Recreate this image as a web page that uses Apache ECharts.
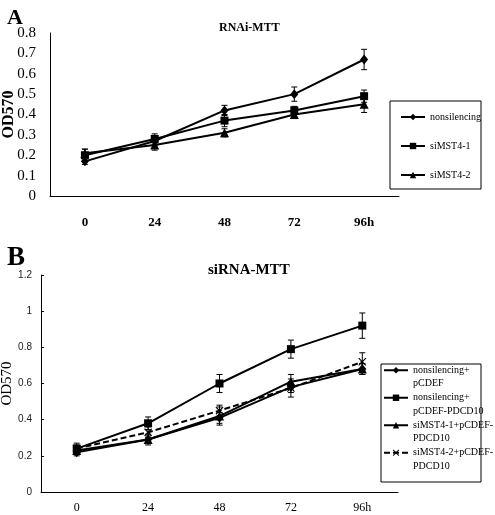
<!DOCTYPE html>
<html><head><meta charset="utf-8">
<script src="https://cdn.jsdelivr.net/npm/echarts@6/dist/echarts.min.js"></script>
<style>html,body{margin:0;padding:0;background:#fff}#c{width:495px;height:515px}</style>
</head><body><div id="c"></div>
<script>
// ---- Panel A data ----
const hours = ['0', '24', '48', '72', '96h'];
const aNames = ['nonsilencing', 'siMST4-1', 'siMST4-2'];
const aNonsilencing    = [0.17, 0.27, 0.42, 0.50, 0.67];
const aNonsilencingErr = [0.015, 0.02, 0.025, 0.035, 0.05];
const aSiMST41         = [0.20, 0.28, 0.37, 0.42, 0.49];
const aSiMST41Err      = [0.03, 0.025, 0.03, 0.02, 0.03];
const aSiMST42         = [0.21, 0.25, 0.31, 0.40, 0.45];
const aSiMST42Err      = [0.02, 0.025, 0.02, 0.02, 0.04];
const aYTicks = ['0', '0.1', '0.2', '0.3', '0.4', '0.5', '0.6', '0.7', '0.8'];

// ---- Panel B data ----
const bNames = ['nonsilencing+\npCDEF', 'nonsilencing+\npCDEF-PDCD10', 'siMST4-1+pCDEF-\nPDCD10', 'siMST4-2+pCDEF-\nPDCD10'];
const bNonPCDEF       = [0.22, 0.29, 0.41, 0.58, 0.68];
const bNonPCDEFErr    = [0.02, 0.02, 0.03, 0.03, 0.03];
const bNonPDCD10      = [0.24, 0.38, 0.60, 0.79, 0.92];
const bNonPDCD10Err   = [0.02, 0.035, 0.05, 0.05, 0.07];
const bSi1PDCD10      = [0.23, 0.29, 0.42, 0.61, 0.68];
const bSi1PDCD10Err   = [0.02, 0.03, 0.05, 0.04, 0.03];
const bSi2PDCD10      = [0.24, 0.33, 0.45, 0.575, 0.72];
const bSi2PDCD10Err   = [0.03, 0.03, 0.03, 0.05, 0.05];
const bYTicks = ['0', '0.2', '0.4', '0.6', '0.8', '1', '1.2'];

const SERIF = 'Liberation Serif';
const SANS = 'Liberation Sans';

function errData(vals, errs) {
  return vals.map((v, i) => [i, v - errs[i], v + errs[i]]);
}
function errRender(params, api) {
  const x = api.value(0), lo = api.value(1), hi = api.value(2);
  const p1 = api.coord([x, hi]), p2 = api.coord([x, lo]);
  const w = 3;
  const style = { stroke: '#000', lineWidth: 1 };
  return { type: 'group', children: [
    { type: 'line', shape: { x1: p1[0], y1: p1[1], x2: p2[0], y2: p2[1] }, style },
    { type: 'line', shape: { x1: p1[0] - w, y1: p1[1], x2: p1[0] + w, y2: p1[1] }, style },
    { type: 'line', shape: { x1: p2[0] - w, y1: p2[1], x2: p2[0] + w, y2: p2[1] }, style }
  ]};
}
function errSeries(name, axisIdx, vals, errs) {
  return { type: 'custom', name: name, xAxisIndex: axisIdx, yAxisIndex: axisIdx,
    renderItem: errRender, data: errData(vals, errs), encode: { x: 0, y: [1, 2] }, z: 1, silent: true };
}
function lineSeries(name, axisIdx, vals, symbol, size, dashed) {
  return { type: 'line', name: name, xAxisIndex: axisIdx, yAxisIndex: axisIdx, data: vals,
    symbol: symbol, symbolSize: size, showAllSymbol: true, z: 3,
    lineStyle: { color: '#000', width: 2, type: dashed ? [6, 3] : 'solid' },
    itemStyle: { color: '#000' } };
}
const XSYM = 'path://M0,1L1,0L5,4L9,0L10,1L6,5L10,9L9,10L5,6L1,10L0,9L4,5Z';

const option = {
  animation: false,
  backgroundColor: '#fff',
  title: [
    { text: 'A', left: 2, top: 2, textStyle: { fontFamily: SERIF, fontWeight: 'bold', fontSize: 22, color: '#000' } },
    { text: 'RNAi-MTT', left: 214, top: 17, textStyle: { fontFamily: SERIF, fontWeight: 'bold', fontSize: 12, color: '#000' } },
    { text: 'B', left: 2, top: 240, textStyle: { fontFamily: SERIF, fontWeight: 'bold', fontSize: 27, color: '#000' } },
    { text: 'siRNA-MTT', left: 203, top: 258, textStyle: { fontFamily: SERIF, fontWeight: 'bold', fontSize: 15, color: '#000' } }
  ],
  grid: [
    { left: 50, top: 33, width: 349, height: 163, outerBoundsMode: 'none', containLabel: false },
    { left: 41, top: 275, width: 357, height: 217, outerBoundsMode: 'none', containLabel: false }
  ],
  xAxis: [
    { type: 'category', gridIndex: 0, data: hours, boundaryGap: true,
      axisLine: { lineStyle: { color: '#000', width: 1 } },
      axisTick: { inside: true, length: 5, lineStyle: { color: '#000' } },
      axisLabel: { margin: 20, fontFamily: SERIF, fontWeight: 'bold', fontSize: 13, color: '#000' } },
    { type: 'category', gridIndex: 1, data: hours, boundaryGap: true,
      axisLine: { lineStyle: { color: '#000', width: 1 } },
      axisTick: { inside: true, length: 5, lineStyle: { color: '#000' } },
      axisLabel: { margin: 10, fontFamily: SERIF, fontSize: 12, color: '#000' } }
  ],
  yAxis: [
    { type: 'value', gridIndex: 0, min: 0, max: 0.8, interval: 0.1,
      name: 'OD570', nameLocation: 'middle', nameGap: 33, nameRotate: 90, nameMoveOverlap: false,
      nameTextStyle: { fontFamily: SERIF, fontWeight: 'bold', fontSize: 16, color: '#000' },
      axisLine: { show: true, lineStyle: { color: '#000', width: 1 } },
      axisTick: { show: false }, splitLine: { show: false },
      axisLabel: { margin: 14, fontFamily: SERIF, fontSize: 15, color: '#000',
        formatter: (v) => aYTicks[Math.round(v * 10)] } },
    { type: 'value', gridIndex: 1, min: 0, max: 1.2, interval: 0.2,
      name: 'OD570', nameLocation: 'middle', nameGap: 26, nameRotate: 90, nameMoveOverlap: false,
      nameTextStyle: { fontFamily: SERIF, fontSize: 15, color: '#000' },
      axisLine: { show: true, lineStyle: { color: '#000', width: 1 } },
      axisTick: { show: true, inside: true, length: 3, lineStyle: { color: '#000' } }, splitLine: { show: false },
      axisLabel: { margin: 9, fontFamily: SANS, fontSize: 10, color: '#222',
        formatter: (v) => bYTicks[Math.round(v * 5)] } }
  ],
  legend: [
    { data: aNames, orient: 'vertical', left: 400, top: 110, padding: 0, itemGap: 15,
      itemWidth: 24, itemHeight: 8, selectedMode: false,
      textStyle: { fontFamily: SERIF, fontSize: 10, color: '#000', lineHeight: 14 } },
    { data: bNames, orient: 'vertical', left: 383, top: 350, padding: 0, itemGap: -13,
      itemWidth: 24, itemHeight: 8, selectedMode: false,
      formatter: (n) => '\n' + n,
      textStyle: { fontFamily: SERIF, fontSize: 10, color: '#000', lineHeight: 13.5 } }
  ],
  graphic: [
    { type: 'rect', shape: { x: 390, y: 101, width: 91, height: 88 }, style: { fill: 'none', stroke: '#000', lineWidth: 1 }, z: 10 },
    { type: 'rect', shape: { x: 381, y: 364, width: 100, height: 118 }, style: { fill: 'none', stroke: '#000', lineWidth: 1 }, z: 10 }
  ],
  series: [
    errSeries('errA0', 0, aNonsilencing, aNonsilencingErr),
    errSeries('errA1', 0, aSiMST41, aSiMST41Err),
    errSeries('errA2', 0, aSiMST42, aSiMST42Err),
    lineSeries(aNames[0], 0, aNonsilencing, 'diamond', [8, 10]),
    lineSeries(aNames[1], 0, aSiMST41, 'rect', 8),
    lineSeries(aNames[2], 0, aSiMST42, 'triangle', 9),
    errSeries('errB0', 1, bNonPCDEF, bNonPCDEFErr),
    errSeries('errB1', 1, bNonPDCD10, bNonPDCD10Err),
    errSeries('errB2', 1, bSi1PDCD10, bSi1PDCD10Err),
    errSeries('errB3', 1, bSi2PDCD10, bSi2PDCD10Err),
    lineSeries(bNames[0], 1, bNonPCDEF, 'diamond', [8, 10]),
    lineSeries(bNames[1], 1, bNonPDCD10, 'rect', 8),
    lineSeries(bNames[2], 1, bSi1PDCD10, 'triangle', 9),
    lineSeries(bNames[3], 1, bSi2PDCD10, XSYM, 8, true)
  ]
};
const chart = echarts.init(document.getElementById('c'), null, { renderer: 'canvas' });
chart.setOption(option);
</script>
</body></html>
